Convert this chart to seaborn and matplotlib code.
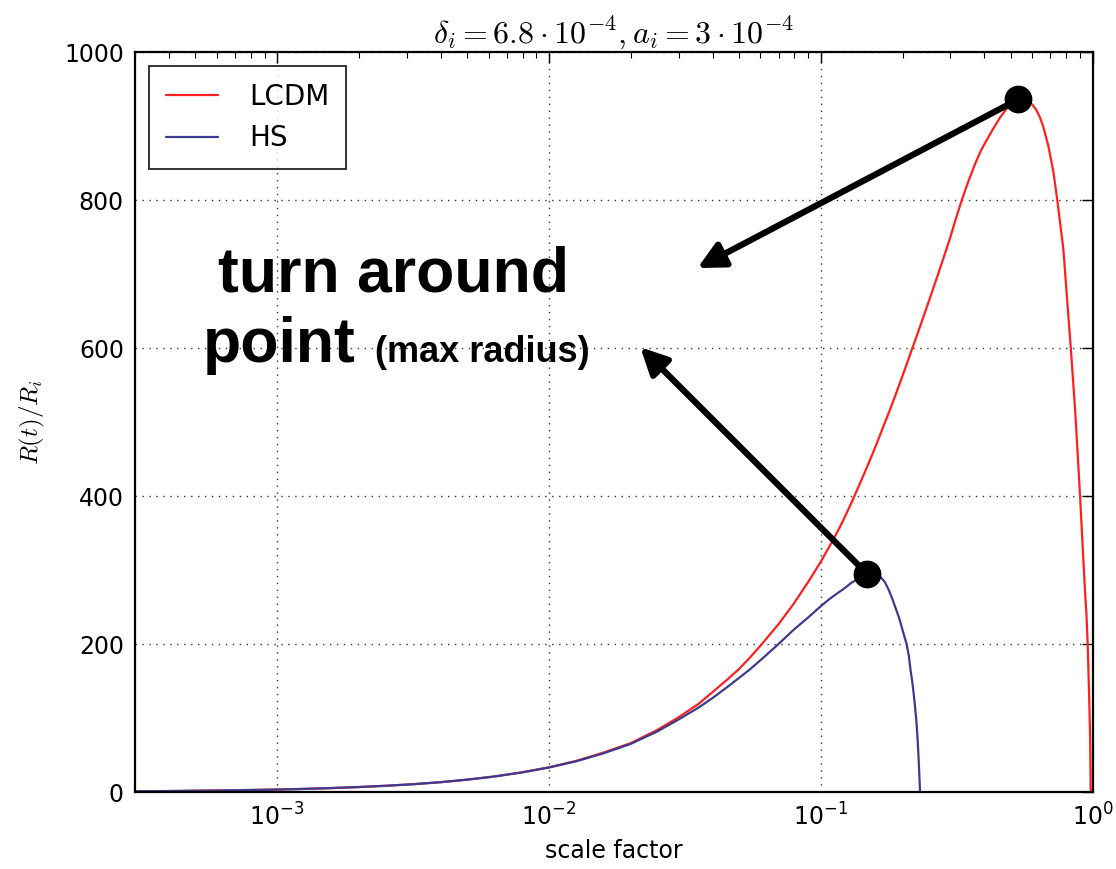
import numpy as np
import pandas as pd
import matplotlib
matplotlib.use("Agg")
import matplotlib.pyplot as plt
import seaborn as sns

# Scale factor samples and normalised shell radius R(t)/R_i for each model
a_lcdm = [3e-4, 4e-4, 5e-4, 6.3e-4, 8e-4, 1e-3, 1.26e-3, 1.58e-3, 2e-3, 2.51e-3,
          3.16e-3, 3.98e-3, 5.01e-3, 6.31e-3, 7.94e-3, 0.0100, 0.0126, 0.0158, 0.0200, 0.0251,
          0.0300, 0.0355, 0.0400, 0.0450, 0.0500, 0.0550, 0.0608, 0.0700, 0.0794, 0.0900,
          0.100, 0.110, 0.118, 0.125, 0.132, 0.141, 0.150, 0.160, 0.170, 0.180,
          0.190, 0.203, 0.2165, 0.230, 0.245, 0.258, 0.271, 0.285, 0.300, 0.315,
          0.3305, 0.350, 0.370, 0.390, 0.414, 0.437, 0.460, 0.480, 0.500, 0.515,
          0.533, 0.548, 0.565, 0.581, 0.600, 0.621, 0.640, 0.659, 0.688, 0.718,
          0.742, 0.781, 0.832, 0.865, 0.900, 0.917, 0.938, 0.950, 0.960, 0.972,
          0.980, 0.985]
r_lcdm = [1.0, 1.3, 1.7, 2.1, 2.7, 3.3, 4.2, 5.3, 6.7, 8.4,
          10.5, 13.2, 16.7, 21.0, 26.5, 33.3, 42, 53, 66, 84,
          101, 119, 135, 151, 166, 182, 200, 227, 254, 284,
          311, 338, 359, 378, 397, 421, 444, 469, 494, 517,
          540, 569, 598, 625, 654, 678, 701, 725, 750, 776,
          800, 826, 849, 868, 885, 900, 913, 922, 929, 933,
          936, 935, 934, 932, 929, 922, 912, 899, 873, 838,
          800, 734, 600, 511, 400, 342, 273, 240, 200, 130,
          75, 0]

a_hs = [3e-4, 4e-4, 5e-4, 6.3e-4, 8e-4, 1e-3, 1.26e-3, 1.58e-3, 2e-3, 2.51e-3,
        3.16e-3, 3.98e-3, 5.01e-3, 6.31e-3, 7.94e-3, 0.0100, 0.0126, 0.0158, 0.0200, 0.0251,
        0.0300, 0.0355, 0.0400, 0.0450, 0.0500, 0.0550, 0.0600, 0.0690, 0.0794, 0.0900,
        0.100, 0.107, 0.1146, 0.122, 0.130, 0.140, 0.148, 0.157, 0.1655, 0.172,
        0.178, 0.183, 0.188, 0.194, 0.200, 0.204, 0.207, 0.211, 0.214, 0.217,
        0.219, 0.222, 0.225, 0.227, 0.229, 0.2305, 0.232]
r_hs = [1.0, 1.3, 1.7, 2.1, 2.7, 3.3, 4.2, 5.3, 6.7, 8.4,
        10.5, 13.2, 16.7, 21.0, 26.4, 33.1, 41.5, 52, 65, 82,
        98, 114, 127, 141, 154, 166, 178, 198, 219, 236,
        251, 260, 268, 275, 283, 290, 295, 294, 291, 284,
        273, 262, 250, 236, 219, 208, 200, 184, 165, 150,
        138, 118, 95, 74, 48, 25, 0]

models = ["LCDM", "HS"]
colors = {"LCDM": "#ff1f1f", "HS": "#3b3b8f"}

df = pd.concat([
    pd.DataFrame({"a": a_lcdm, "R": r_lcdm, "model": "LCDM"}),
    pd.DataFrame({"a": a_hs, "R": r_hs, "model": "HS"}),
], ignore_index=True)

sns.set_theme(style="white")
plt.rcParams["font.family"] = ["DejaVu Sans"]
plt.rcParams["mathtext.fontset"] = "cm"
plt.rcParams["text.color"] = "black"
plt.rcParams["axes.labelcolor"] = "black"
plt.rcParams["xtick.color"] = "black"
plt.rcParams["ytick.color"] = "black"

W, H = 1116, 869
fig = plt.figure(figsize=(W / 100, H / 100), dpi=100)
ax = fig.add_axes([135 / W, 77 / H, (1092.5 - 135) / W, (792 - 52) / H])

sns.lineplot(data=df, x="a", y="R", hue="model", hue_order=models,
             palette=colors, sort=False, estimator=None, lw=1.6, ax=ax,
             legend=False)

ax.set_xscale("log")
ax.set_xlim(3e-4, 1.0)
ax.set_ylim(0, 1000)
ax.set_yticks([0, 200, 400, 600, 800, 1000])

ax.grid(True, which="major", color="black", linestyle=(0, (1, 4)), lw=1.0, alpha=0.8)
ax.tick_params(which="both", direction="in", top=True, right=True,
               colors="black", labelsize=17)
ax.tick_params(which="major", length=8, width=1.0, pad=8)
ax.tick_params(which="minor", length=4, width=0.8)
for s in ax.spines.values():
    s.set_color("black")
    s.set_linewidth(1.6)

ax.set_xlabel("scale factor", fontsize=17, labelpad=6, color="black")
ax.set_ylabel(r"$R(t)/R_i$", fontsize=18, labelpad=12, color="black")
ax.set_title(r"$\delta_i = 6.8\cdot 10^{-4}, a_i = 3\cdot 10^{-4}$",
             fontsize=23, pad=7, color="black")

# legend
handles = [plt.Line2D([], [], color=colors[m], lw=1.6) for m in models]
leg = ax.legend(handles, models, loc="upper left", fontsize=20, frameon=True,
                fancybox=False, handlelength=1.9, handletextpad=1.1,
                borderpad=0.6, labelspacing=0.5, borderaxespad=0.5)
leg.get_frame().set_edgecolor("black")
leg.get_frame().set_linewidth(1.4)
for t in leg.get_texts():
    t.set_color("black")

# turn-around markers at each curve's maximum, with arrows to the caption
peaks = []
for a_vals, r_vals in [(a_lcdm, r_lcdm), (a_hs, r_hs)]:
    i = int(np.argmax(r_vals))
    peaks.append((a_vals[i], r_vals[i]))
    ax.plot(a_vals[i], r_vals[i], "o", color="black", ms=19, zorder=5)

arrow_tips = [(0.0352, 708), (0.0217, 601)]
for (pa, pr), tip in zip(peaks, arrow_tips):
    ax.annotate("", xy=tip, xytext=(pa, pr),
                arrowprops=dict(arrowstyle="-|>", color="black", lw=4.5,
                                mutation_scale=40, shrinkA=0, shrinkB=0),
                zorder=4)

fig.text(218 / W, 1 - 292 / H, "turn around", family="Liberation Sans",
         weight="bold", fontsize=45, va="baseline", ha="left", color="black")
fig.text(203 / W, 1 - 362 / H, "point", family="Liberation Sans",
         weight="bold", fontsize=45, va="baseline", ha="left", color="black")
fig.text(375 / W, 1 - 362 / H, "(max radius)", family="Liberation Sans",
         weight="bold", fontsize=26, va="baseline", ha="left", color="black")

fig.savefig("out.png", dpi=100, facecolor="white")
